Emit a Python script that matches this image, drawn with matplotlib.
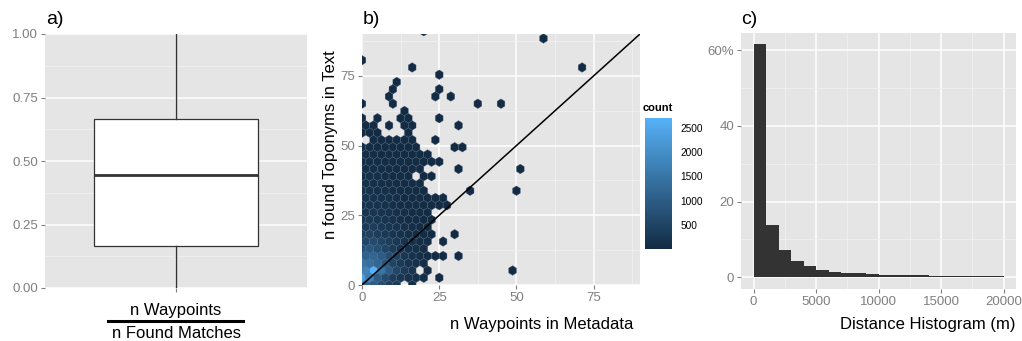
import matplotlib
matplotlib.use("Agg")
import matplotlib.pyplot as plt
import numpy as np
from matplotlib.colors import LinearSegmentedColormap
from matplotlib.lines import Line2D

plt.rcParams['font.family'] = ['Liberation Sans', 'DejaVu Sans']

# ---- panel a: ratio boxplot ----
box_q1 = 0.1667
box_med = 0.4444
box_q3 = 0.6667
box_lo = 0.0
box_hi = 1.0

# ---- panel b: hexbin of toponyms vs waypoints ----
# dense block, one list of hex counts per row (row_y), columns at col_x_even / col_x_odd
row_y = [0, 2.6, 5.2, 7.8, 10.4, 13.0, 15.6, 18.2, 20.8, 23.4,
         26.0, 28.6, 31.2, 33.8, 36.4, 39.0, 41.6, 44.2, 46.8, 49.4]
col_x_even = [1.25, 3.75, 6.25, 8.75, 11.25, 13.75, 16.25, 18.75, 21.25, 23.75, 26.25]
col_x_odd = [0, 2.5, 5, 7.5, 10, 12.5, 15, 17.5, 20, 22.5, 25]
dense_counts = [
    [1200, 1000, 700, 400, 300, 0, 60, 0, 0, 0, 0],
    [2300, 1700, 1000, 650, 400, 250, 150, 100, 60, 0, 0],
    [1800, 2700, 1500, 1000, 550, 300, 200, 0, 40, 0, 0],
    [1500, 1400, 1200, 900, 500, 300, 180, 100, 50, 0, 0],
    [1100, 1200, 1000, 700, 450, 250, 150, 90, 50, 30, 10],
    [800, 900, 700, 500, 320, 200, 120, 80, 40, 0, 0],
    [550, 650, 500, 380, 260, 150, 100, 60, 40, 0, 10],
    [420, 470, 370, 290, 200, 130, 90, 50, 30, 20, 0],
    [320, 360, 290, 220, 160, 110, 70, 40, 30, 0, 0],
    [250, 280, 220, 180, 130, 90, 60, 40, 20, 15, 0],
    [200, 220, 180, 150, 110, 80, 50, 30, 20, 0, 0],
    [170, 180, 150, 120, 90, 60, 40, 30, 20, 10, 8],
    [150, 150, 130, 100, 80, 50, 35, 25, 15, 10, 0],
    [120, 130, 110, 90, 70, 45, 30, 20, 10, 0, 0],
    [100, 110, 90, 75, 60, 40, 25, 15, 0, 0, 0],
    [90, 100, 80, 65, 50, 35, 20, 0, 8, 5, 0],
    [80, 90, 70, 55, 45, 30, 20, 10, 0, 0, 0],
    [70, 75, 60, 50, 40, 25, 15, 10, 5, 3, 3],
    [60, 65, 50, 40, 30, 20, 12, 8, 4, 0, 0],
    [50, 55, 45, 35, 25, 15, 10, 5, 0, 0, 0],
]
# scattered hexes outside the dense block
sparse_x = [3.75, 6.25, 8.75, 11.25, 13.75, 16.25, 23.75,
            0, 2.5, 5, 15,
            1.25, 3.75, 8.75, 13.75, 16.25, 31.25,
            0, 5, 12.5, 15, 25,
            13.75,
            0, 10, 37.5, 45,
            8.75, 23.75, 28.75,
            10, 25,
            11.25,
            25,
            16.25, 71.25,
            0,
            58.75,
            20,
            30, 32.5,
            31.25, 51.25,
            35, 50,
            30,
            31.25,
            48.75,
            25,
            27.5,
            26.25]
sparse_y = [52.0, 52.0, 52.0, 52.0, 52.0, 52.0, 52.0,
            54.6, 54.6, 54.6, 54.6,
            57.2, 57.2, 57.2, 57.2, 57.2, 57.2,
            59.8, 59.8, 59.8, 59.8, 59.8,
            62.4,
            65.0, 65.0, 65.0, 65.0,
            67.6, 67.6, 67.6,
            70.2, 70.2,
            72.8,
            75.4,
            78.0, 78.0,
            80.6,
            88.4,
            91.0,
            49.4, 49.4,
            41.6, 41.6,
            33.8, 33.8,
            18.2,
            10.4,
            5.2,
            2.6,
            28.6,
            31.2]
sparse_n = [25, 20, 15, 10, 8, 5, 3,
            20, 10, 8, 5,
            10, 8, 5, 5, 4, 2,
            5, 3, 3, 2, 2,
            2,
            2, 1, 1, 1,
            1, 1, 1,
            1, 1,
            1,
            1,
            1, 1,
            1,
            1,
            1,
            1, 1,
            1, 1,
            1, 1,
            1,
            1,
            1,
            1,
            1,
            1]
cbar_ticks = [500, 1000, 1500, 2000, 2500]

# ---- panel c: distance histogram, percent per 1000 m bin ----
bin_edges = [0, 1000, 2000, 3000, 4000, 5000, 6000, 7000, 8000, 9000, 10000,
             11000, 12000, 13000, 14000, 15000, 16000, 17000, 18000, 19000, 20000]
bin_pct = [61.6, 13.7, 7.3, 4.4, 2.9, 2.0, 1.5, 1.16, 1.16, 0.9,
           0.71, 0.71, 0.71, 0.71, 0.45, 0.45, 0.45, 0.45, 0.45, 0.45]

W, H = 1022, 341
BG = '#E5E5E5'
TICK = '#7F7F7F'


def rect(l, t, r, b):
    return [l / W, 1 - b / H, (r - l) / W, (b - t) / H]


def gg_style(ax, xmajor, xminor, ymajor, yminor):
    ax.set_facecolor(BG)
    for s in ax.spines.values():
        s.set_visible(False)
    ax.set_xticks(xmajor)
    ax.set_xticks(xminor, minor=True)
    ax.set_yticks(ymajor)
    ax.set_yticks(yminor, minor=True)
    ax.grid(which='major', color='white', linewidth=1.1)
    ax.grid(which='minor', color='#F2F2F2', linewidth=0.55)
    ax.set_axisbelow(True)
    ax.tick_params(which='major', length=3, width=0.8, color=TICK,
                   labelcolor=TICK, labelsize=9.5, pad=2)
    ax.tick_params(which='minor', length=0)


fig = plt.figure(figsize=(W / 100, H / 100), dpi=100)

# panel a
ax1 = fig.add_axes(rect(45, 34, 307, 288))
gg_style(ax1, [1], [], [0, 0.25, 0.5, 0.75, 1.0], [0.125, 0.375, 0.625, 0.875])
ax1.set_xlim(0.4, 1.6)
ax1.set_ylim(0, 1)
ax1.set_xticklabels([''])
ax1.set_yticklabels(['0.00', '0.25', '0.50', '0.75', '1.00'])
stats = [{'med': box_med, 'q1': box_q1, 'q3': box_q3,
          'whislo': box_lo, 'whishi': box_hi, 'fliers': []}]
ax1.bxp(stats, positions=[1], widths=0.75, patch_artist=True, showcaps=False,
        boxprops=dict(facecolor='white', edgecolor='#333333', linewidth=0.9),
        whiskerprops=dict(color='#333333', linewidth=1.0),
        medianprops=dict(color='#333333', linewidth=2.0),
        manage_ticks=False)
fig.text(176 / W, 1 - 315 / H, 'n Waypoints', ha='center', va='baseline', fontsize=12)
fig.text(176 / W, 1 - 337.5 / H, 'n Found Matches', ha='center', va='baseline', fontsize=12)
fig.add_artist(Line2D([108 / W, 243 / W], [1 - 321 / H, 1 - 321 / H],
                      color='black', linewidth=2.2, transform=fig.transFigure))

# panel b
ax2 = fig.add_axes(rect(362, 34, 640, 285))
gg_style(ax2, [0, 25, 50, 75], [12.5, 37.5, 62.5, 87.5],
         [0, 25, 50, 75], [12.5, 37.5, 62.5, 87.5])
hx, hy, hn = [], [], []
for k, counts in enumerate(dense_counts):
    cols = col_x_even if k % 2 == 0 else col_x_odd
    for x, n in zip(cols, counts):
        if n > 0:
            hx.append(x)
            hy.append(row_y[k])
            hn.append(n)
hx += sparse_x
hy += sparse_y
hn += sparse_n
cmap = LinearSegmentedColormap.from_list('gg', ['#132B43', '#56B1F7'])
hb = ax2.hexbin(hx, hy, C=hn, reduce_C_function=np.sum, gridsize=(30, 18),
                extent=(-1.25, 73.75, 0, 93.6), cmap=cmap, vmin=1, vmax=2700,
                linewidths=0.25, edgecolors='#4b6178', zorder=2)
ax2.plot([0, 90], [0, 90], color='black', linewidth=1.1, zorder=3)
ax2.set_xlim(0, 90)
ax2.set_ylim(0, 90)
fig.text(633 / W, 1 - 329 / H, 'n Waypoints in Metadata', ha='right', va='baseline', fontsize=12)
fig.text(330 / W, 1 - 145 / H, 'n found Toponyms in Text', ha='center', va='center',
         rotation=90, fontsize=12)

cax = fig.add_axes(rect(645, 118, 672, 249))
cb = fig.colorbar(hb, cax=cax)
cb.outline.set_visible(False)
cb.set_ticks(cbar_ticks)
cax.tick_params(length=0, labelsize=7.3, pad=6, labelcolor='black')
fig.text(643 / W, 1 - 108 / H, 'count', ha='left', va='center', fontsize=8, fontweight='bold')

# panel c
ax3 = fig.add_axes(rect(741, 33, 1016, 289))
gg_style(ax3, [0, 5000, 10000, 15000, 20000], [2500, 7500, 12500, 17500],
         [0, 20, 40, 60], [10, 30, 50])
ax3.bar(bin_edges[:-1], bin_pct, width=np.diff(bin_edges), align='edge',
        color='#333333', linewidth=0)
ax3.set_xlim(-1000, 21000)
ax3.set_ylim(-3.1, 64.5)
ax3.set_xticklabels(['0', '5000', '10000', '15000', '20000'])
ax3.set_yticklabels(['0', '20', '40', '60%'])
fig.text(1015 / W, 1 - 329 / H, 'Distance Histogram (m)', ha='right', va='baseline', fontsize=12)

# panel letters
fig.text(46 / W, 1 - 19 / H, 'a)', ha='left', va='center', fontsize=14)
fig.text(363 / W, 1 - 20 / H, 'b)', ha='left', va='center', fontsize=14)
fig.text(741 / W, 1 - 20 / H, 'c)', ha='left', va='center', fontsize=14)

fig.savefig('out.png', dpi=100)
